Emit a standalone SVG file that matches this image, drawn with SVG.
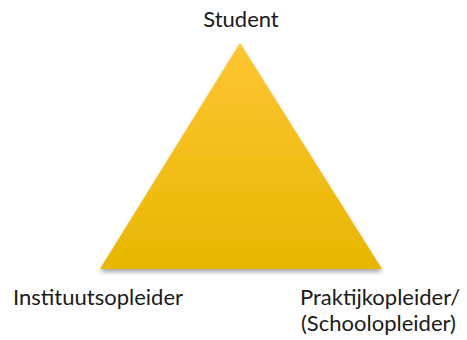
<svg xmlns="http://www.w3.org/2000/svg" width="467" height="340" viewBox="0 0 467 340">
<style>
text{font-family:Lato,"Open Sans","Liberation Sans",sans-serif;font-size:22px;fill:#1a1a1a}
</style>
<defs>
<linearGradient id="g" x1="0" y1="0" x2="0" y2="1">
<stop offset="0" stop-color="#FFC533"/>
<stop offset="1" stop-color="#E7B700"/>
</linearGradient>
<filter id="sh" x="-10%" y="-10%" width="120%" height="130%">
<feGaussianBlur in="SourceAlpha" stdDeviation="2"/>
<feOffset dx="0" dy="3"/>
<feComponentTransfer><feFuncA type="linear" slope="0.35"/></feComponentTransfer>
<feMerge><feMergeNode/><feMergeNode in="SourceGraphic"/></feMerge>
</filter>
</defs>
<rect width="467" height="340" fill="#fff"/>
<g id="triangle">
<polygon points="240,43 382,269 100,269" fill="url(#g)" filter="url(#sh)"/>
</g>
<g id="student"><text x="241" y="27" text-anchor="middle">Student</text></g>
<g id="instituut"><text x="13" y="305">Instituutsopleider</text></g>
<g id="praktijk"><text x="300" y="305">Praktijkopleider/</text><text x="301" y="331">(Schoolopleider)</text></g>
</svg>
